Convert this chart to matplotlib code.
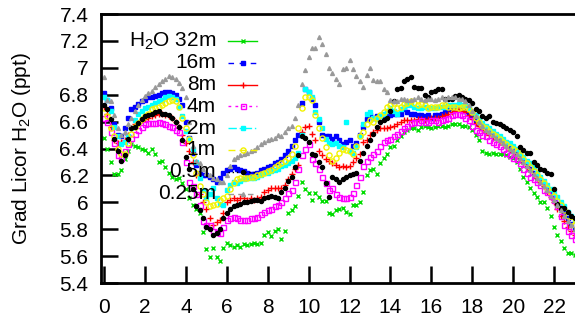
import numpy as np
import matplotlib
matplotlib.use('Agg')
import matplotlib.pyplot as plt
from matplotlib.lines import Line2D
from matplotlib.ticker import FuncFormatter

plt.rcParams['font.family'] = ['Liberation Sans', 'DejaVu Sans']
plt.rcParams['mathtext.default'] = 'regular'

# 10 minute samples, one row per hour
hours = np.arange(144) / 6.0

h2o_32m = [
    6.48, 6.40, 6.30, 6.21, 6.21, 6.24,
    6.32, 6.38, 6.43, 6.42, 6.41, 6.40,
    6.39, 6.37, 6.40, 6.36, 6.30, 6.31,
    6.26, 6.22, 6.19, 6.17, 6.18, 6.14,
    6.10, 6.03, 5.98, 5.95, 5.92, 5.78,
    5.65, 5.59, 5.66, 5.59, 5.56, 5.66,
    5.70, 5.68, 5.67, 5.68, 5.67, 5.69,
    5.68, 5.69, 5.70, 5.69, 5.70, 5.76,
    5.78, 5.75, 5.79, 5.80, 5.73, 5.79,
    5.92, 5.94, 5.97, 6.05, 6.15, 6.10,
    6.07, 6.02, 6.07, 6.04, 6.01, 6.01,
    5.92, 5.91, 5.94, 5.95, 5.96, 5.93,
    5.91, 5.98, 5.98, 6.00, 6.08, 6.20,
    6.24, 6.25, 6.21, 6.29, 6.33, 6.36,
    6.41, 6.42, 6.46, 6.49, 6.52, 6.54,
    6.55, 6.55, 6.54, 6.56, 6.57, 6.56,
    6.55, 6.56, 6.57, 6.57, 6.56, 6.57,
    6.58, 6.58, 6.58, 6.57, 6.57, 6.56,
    6.54, 6.50, 6.46, 6.38, 6.37, 6.36,
    6.37, 6.36, 6.36, 6.36, 6.35, 6.34,
    6.33, 6.30, 6.25, 6.19, 6.15, 6.11,
    6.07, 6.04, 6.00, 6.00, 5.96, 5.90,
    5.82, 5.76, 5.71, 5.66, 5.62, 5.62,
    5.61, 5.60, 5.58, 5.57, 5.56, 5.55,
]

h2o_16m = [
    6.81, 6.76, 6.70, 6.58, 6.50, 6.49,
    6.55, 6.63, 6.69, 6.71, 6.73, 6.75,
    6.76, 6.78, 6.78, 6.79, 6.80, 6.81,
    6.82, 6.82, 6.81, 6.80, 6.77, 6.72,
    6.60, 6.48, 6.37, 6.28, 6.22, 6.20,
    6.20, 6.19, 6.17, 6.15, 6.18, 6.22,
    6.24, 6.25, 6.26, 6.25, 6.24, 6.23,
    6.22, 6.21, 6.21, 6.22, 6.24, 6.25,
    6.26, 6.27, 6.29, 6.30, 6.32, 6.35,
    6.38, 6.42, 6.46, 6.50, 6.74, 6.84,
    6.82, 6.77, 6.72, 6.60, 6.50, 6.49,
    6.49, 6.47, 6.49, 6.46, 6.43, 6.45,
    6.46, 6.42, 6.44, 6.50, 6.56, 6.62,
    6.65, 6.63, 6.64, 6.64, 6.65, 6.64,
    6.65, 6.66, 6.66, 6.66, 6.69, 6.67,
    6.66, 6.66, 6.65, 6.65, 6.64, 6.65,
    6.63, 6.65, 6.65, 6.66, 6.67, 6.69,
    6.70, 6.71, 6.70, 6.69, 6.68, 6.66,
    6.64, 6.61, 6.58, 6.56, 6.54, 6.52,
    6.51, 6.49, 6.47, 6.45, 6.43, 6.41,
    6.39, 6.37, 6.34, 6.31, 6.28, 6.25,
    6.22, 6.19, 6.16, 6.13, 6.10, 6.06,
    6.03, 5.99, 5.96, 5.92, 5.88, 5.84,
    5.80, 5.77, 5.74, 5.72, 5.70, 5.68,
]

h2o_8m = [
    6.71, 6.66, 6.56, 6.46, 6.44, 6.45,
    6.46, 6.50, 6.55, 6.58, 6.59, 6.61,
    6.62, 6.63, 6.64, 6.65, 6.66, 6.66,
    6.65, 6.64, 6.63, 6.60, 6.56, 6.50,
    6.44, 6.38, 6.30, 6.20, 6.06, 6.00,
    5.95, 5.88, 5.83, 5.85, 5.87, 5.92,
    6.00, 6.02, 6.03, 6.02, 6.03, 6.03,
    6.02, 6.03, 6.02, 6.03, 6.04, 6.08,
    6.09, 6.11, 6.11, 6.11, 6.11, 6.13,
    6.17, 6.21, 6.25, 6.28, 6.52, 6.56,
    6.57, 6.51, 6.46, 6.38, 6.35, 6.32,
    6.31, 6.29, 6.28, 6.26, 6.27, 6.26,
    6.27, 6.30, 6.33, 6.36, 6.45, 6.46,
    6.50, 6.52, 6.54, 6.55, 6.55, 6.55,
    6.56, 6.57, 6.58, 6.60, 6.61, 6.61,
    6.61, 6.61, 6.62, 6.62, 6.61, 6.62,
    6.63, 6.63, 6.63, 6.64, 6.65, 6.66,
    6.67, 6.68, 6.69, 6.68, 6.67, 6.65,
    6.62, 6.59, 6.57, 6.54, 6.52, 6.50,
    6.48, 6.47, 6.45, 6.43, 6.41, 6.39,
    6.37, 6.35, 6.32, 6.29, 6.26, 6.23,
    6.20, 6.18, 6.15, 6.12, 6.08, 6.04,
    6.00, 5.95, 5.90, 5.86, 5.82, 5.79,
    5.76, 5.74, 5.72, 5.70, 5.68, 5.66,
]

h2o_4m = [
    6.63, 6.60, 6.52, 6.44, 6.35, 6.33,
    6.38, 6.43, 6.48, 6.51, 6.54, 6.56,
    6.58, 6.59, 6.59, 6.59, 6.60, 6.59,
    6.58, 6.57, 6.56, 6.54, 6.52, 6.45,
    6.30, 6.15, 6.12, 6.06, 5.98, 5.86,
    5.83, 5.83, 5.79, 5.78, 5.77, 5.82,
    5.87, 5.88, 5.89, 5.88, 5.87, 5.87,
    5.87, 5.88, 5.88, 5.89, 5.91, 5.93,
    5.94, 5.95, 5.97, 5.98, 6.00, 6.03,
    6.07, 6.09, 6.15, 6.25, 6.35, 6.40,
    6.43, 6.32, 6.29, 6.25, 6.19, 6.14,
    6.09, 6.11, 6.06, 6.04, 6.03, 6.03,
    6.04, 6.07, 6.13, 6.19, 6.27, 6.31,
    6.34, 6.36, 6.38, 6.42, 6.45, 6.46,
    6.47, 6.49, 6.51, 6.53, 6.55, 6.57,
    6.59, 6.60, 6.60, 6.61, 6.60, 6.60,
    6.61, 6.61, 6.60, 6.61, 6.62, 6.63,
    6.65, 6.66, 6.66, 6.65, 6.63, 6.61,
    6.57, 6.54, 6.52, 6.50, 6.49, 6.46,
    6.45, 6.43, 6.42, 6.40, 6.37, 6.35,
    6.33, 6.32, 6.29, 6.25, 6.22, 6.19,
    6.17, 6.15, 6.13, 6.09, 6.08, 6.05,
    6.02, 5.97, 5.90, 5.83, 5.79, 5.76,
    5.73, 5.71, 5.69, 5.67, 5.65, 5.63,
]

h2o_2m = [
    6.78, 6.76, 6.68, 6.56, 6.49, 6.43,
    6.45, 6.49, 6.55, 6.61, 6.66, 6.68,
    6.70, 6.71, 6.72, 6.74, 6.75, 6.76,
    6.78, 6.79, 6.78, 6.77, 6.71, 6.64,
    6.53, 6.47, 6.40, 6.30, 6.18, 6.09,
    6.03, 6.06, 6.11, 6.03, 5.99, 5.98,
    6.09, 6.13, 6.15, 6.14, 6.16, 6.17,
    6.18, 6.18, 6.18, 6.19, 6.20, 6.22,
    6.22, 6.23, 6.24, 6.25, 6.27, 6.28,
    6.29, 6.31, 6.33, 6.37, 6.50, 6.84,
    6.82, 6.78, 6.67, 6.62, 6.55, 6.47,
    6.44, 6.43, 6.44, 6.42, 6.41, 6.60,
    6.38, 6.37, 6.41, 6.49, 6.58, 6.66,
    6.67, 6.63, 6.62, 6.64, 6.66, 6.68,
    6.70, 6.68, 6.66, 6.69, 6.71, 6.72,
    6.72, 6.71, 6.70, 6.70, 6.71, 6.70,
    6.70, 6.70, 6.71, 6.71, 6.71, 6.72,
    6.72, 6.72, 6.73, 6.72, 6.72, 6.70,
    6.67, 6.65, 6.62, 6.59, 6.57, 6.55,
    6.53, 6.51, 6.49, 6.47, 6.45, 6.44,
    6.42, 6.40, 6.37, 6.34, 6.31, 6.29,
    6.26, 6.22, 6.19, 6.16, 6.13, 6.10,
    6.07, 6.04, 6.00, 5.97, 5.93, 5.90,
    5.87, 5.84, 5.81, 5.79, 5.77, 5.75,
]

h2o_1m = [
    6.70, 6.64, 6.55, 6.49, 6.40, 6.36,
    6.36, 6.44, 6.51, 6.56, 6.59, 6.62,
    6.64, 6.66, 6.69, 6.70, 6.71, 6.72,
    6.74, 6.75, 6.76, 6.75, 6.71, 6.63,
    6.55, 6.47, 6.35, 6.22, 6.12, 6.06,
    6.00, 5.97, 5.98, 5.99, 6.02, 6.03,
    6.05, 6.10, 6.14, 6.17, 6.18, 6.18,
    6.18, 6.19, 6.19, 6.20, 6.21, 6.22,
    6.23, 6.24, 6.26, 6.28, 6.29, 6.31,
    6.33, 6.36, 6.42, 6.55, 6.70, 6.78,
    6.78, 6.76, 6.65, 6.55, 6.48, 6.41,
    6.35, 6.31, 6.33, 6.37, 6.40, 6.39,
    6.38, 6.36, 6.42, 6.49, 6.52, 6.58,
    6.61, 6.60, 6.63, 6.65, 6.67, 6.71,
    6.72, 6.74, 6.70, 6.71, 6.73, 6.74,
    6.75, 6.74, 6.72, 6.73, 6.72, 6.70,
    6.71, 6.71, 6.71, 6.72, 6.72, 6.71,
    6.71, 6.71, 6.70, 6.71, 6.71, 6.69,
    6.67, 6.63, 6.60, 6.57, 6.55, 6.53,
    6.51, 6.49, 6.47, 6.45, 6.43, 6.41,
    6.40, 6.38, 6.35, 6.32, 6.29, 6.26,
    6.23, 6.20, 6.17, 6.14, 6.11, 6.08,
    6.05, 6.01, 5.98, 5.94, 5.90, 5.86,
    5.83, 5.80, 5.78, 5.76, 5.74, 5.72,
]

h2o_05m = [
    6.72, 6.69, 6.62, 6.47, 6.38, 6.31,
    6.35, 6.47, 6.55, 6.56, 6.59, 6.62,
    6.64, 6.65, 6.66, 6.67, 6.68, 6.66,
    6.66, 6.65, 6.63, 6.60, 6.56, 6.46,
    6.34, 6.25, 6.10, 5.97, 5.94, 5.88,
    5.82, 5.80, 5.76, 5.77, 5.80, 5.88,
    5.92, 5.95, 5.97, 5.98, 5.99, 6.00,
    6.00, 6.01, 6.02, 6.02, 6.01, 6.03,
    6.04, 6.05, 6.04, 6.03, 6.08, 6.11,
    6.16, 6.19, 6.26, 6.35, 6.49, 6.48,
    6.45, 6.36, 6.35, 6.30, 6.26, 6.14,
    6.04, 6.19, 6.17, 6.15, 6.17, 6.19,
    6.20, 6.21, 6.22, 6.31, 6.37, 6.42,
    6.46, 6.51, 6.56, 6.60, 6.61, 6.63,
    6.68, 6.75, 6.84, 6.85, 6.90, 6.92,
    6.93, 6.86, 6.85, 6.85, 6.80, 6.78,
    6.82, 6.83, 6.84, 6.84, 6.77, 6.77,
    6.77, 6.79, 6.80, 6.78, 6.77, 6.76,
    6.74, 6.69, 6.68, 6.64, 6.63, 6.64,
    6.60, 6.59, 6.58, 6.57, 6.55, 6.54,
    6.52, 6.49, 6.41, 6.39, 6.37, 6.37,
    6.30, 6.28, 6.25, 6.24, 6.22, 6.21,
    6.10, 5.99, 5.96, 5.96, 5.93, 5.90,
    5.88, 5.87, 5.85, 5.84, 5.82, 5.80,
]

h2o_025m = [
    6.93, 6.76, 6.75, 6.65, 6.55, 6.50,
    6.52, 6.58, 6.63, 6.68, 6.72, 6.76,
    6.79, 6.81, 6.83, 6.86, 6.88, 6.90,
    6.92, 6.94, 6.93, 6.92, 6.89, 6.85,
    6.78, 6.60, 6.42, 6.31, 6.29, 6.25,
    6.22, 6.20, 6.18, 6.17, 6.15, 6.15,
    6.20, 6.27, 6.32, 6.34, 6.35, 6.36,
    6.37, 6.38, 6.39, 6.41, 6.43, 6.45,
    6.46, 6.47, 6.48, 6.50, 6.49, 6.52,
    6.55, 6.57, 6.63, 6.72, 6.88, 6.98,
    7.08, 7.15, 7.15, 7.23, 7.18, 7.10,
    7.00, 6.96, 6.92, 6.88, 6.99, 7.00,
    7.06, 6.99, 6.94, 6.90, 6.86, 6.95,
    7.00, 6.91, 6.90, 6.90, 6.84, 6.82,
    6.76, 6.75, 6.75, 6.77, 6.77, 6.76,
    6.76, 6.77, 6.78, 6.77, 6.76, 6.77,
    6.77, 6.76, 6.77, 6.78, 6.77, 6.78,
    6.78, 6.78, 6.77, 6.77, 6.75, 6.72,
    6.68, 6.64, 6.60, 6.57, 6.54, 6.52,
    6.50, 6.48, 6.46, 6.44, 6.42, 6.40,
    6.38, 6.36, 6.33, 6.30, 6.27, 6.24,
    6.21, 6.18, 6.15, 6.12, 6.09, 6.05,
    6.02, 5.98, 5.94, 5.90, 5.86, 5.83,
    5.80, 5.77, 5.75, 5.73, 5.71, 5.69,
]

labels = ['H$_2$O 32m', '16m', '8m', '4m', '2m', '1m', '0.5m', '0.25m']
series = [h2o_32m, h2o_16m, h2o_8m, h2o_4m, h2o_2m, h2o_1m, h2o_05m, h2o_025m]
xticks = list(range(0, 23, 2))

# colour, marker, size, filled, legend linestyle
styles = [
    ('#00dd00', 'x', 3.4, True, '-'),
    ('#0000ff', 's', 3.0, True, (0, (4, 4))),
    ('#ff0000', '+', 3.8, True, '-'),
    ('#ff00ff', 's', 3.6, False, (0, (2, 3))),
    ('#00ffff', 's', 3.3, True, (0, (6, 2, 1, 2))),
    ('#f2f200', 'o', 3.7, False, (0, (5, 3))),
    ('#000000', 'o', 2.9, True, (0, (1, 2))),
    ('#999999', '^', 2.8, True, (0, (4, 3))),
]

W, H = 575, 317
fig = plt.figure(figsize=(W / 100, H / 100), dpi=100)
ax = fig.add_axes([101 / W, (H - 283) / H, (595 - 101) / W, (283 - 14) / H])

for vals, (col, mk, ms, filled, ls) in zip(series, styles):
    ax.plot(hours, vals, ls='none', marker=mk, ms=ms, color=col,
            mfc=col if filled else 'none', mec=col, mew=1.0)

ax.set_xlim(-0.15, 24)
ax.set_ylim(5.4, 7.4)
ax.set_xticks(xticks)
ax.set_yticks(np.arange(5.4, 7.41, 0.2))
ax.yaxis.set_major_formatter(FuncFormatter(lambda v, p: '%g' % round(v, 1)))
ax.tick_params(direction='in', length=12, width=1.8, pad=9, labelsize=15)
ax.tick_params(axis='x', pad=11)
for sp in ax.spines.values():
    sp.set_linewidth(2.0)

fig.text(22 / W, 1 - 149 / H, 'Grad Licor H$_2$O (ppt)', rotation=90,
         ha='center', va='center', fontsize=15)

# legend, gnuplot style: text right aligned, sample to the right
for i, (lab, (col, mk, ms, filled, ls)) in enumerate(zip(labels, styles)):
    yp = 1 - (41 + i * 21.8) / H
    fig.text(216 / W, yp, lab, ha='right', va='center', fontsize=15)
    fig.add_artist(Line2D([228 / W, 257 / W], [yp, yp], color=col, ls=ls, lw=1.0))
    fig.add_artist(Line2D([243 / W], [yp], ls='none', marker=mk, ms=ms, color=col,
                          mfc=col if filled else 'none', mec=col, mew=1.0))

fig.savefig('out.png', dpi=100)
